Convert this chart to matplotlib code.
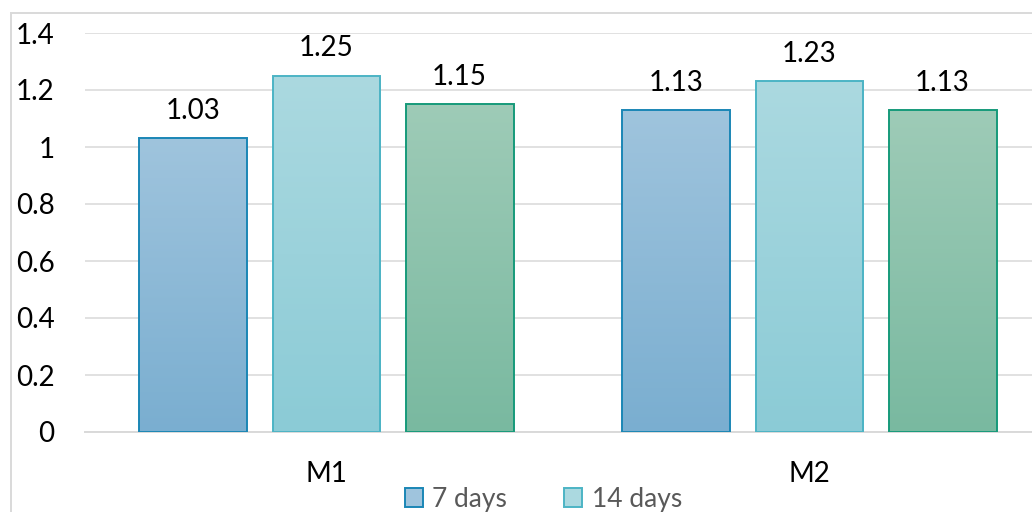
import numpy as np
import matplotlib.pyplot as plt
from matplotlib.patches import Patch, Rectangle
from matplotlib.colors import LinearSegmentedColormap

plt.rcParams['font.family'] = ['Lato', 'DejaVu Sans']

# data
categories = ['M1', 'M2']
series = ['7 days', '14 days', '28 days']
values = [
    [1.03, 1.13],
    [1.25, 1.23],
    [1.15, 1.13],
]
yticks = [0, 0.2, 0.4, 0.6, 0.8, 1, 1.2, 1.4]
ytick_labels = ['0', '0.2', '0.4', '0.6', '0.8', '1', '1.2', '1.4']

# styles: (top colour, bottom colour, edge colour)
styles = [
    ('#9fc4dd', '#7aaed0', '#1a86b5'),
    ('#abd9e0', '#8bcbd6', '#4cb4c5'),
    ('#9ecbb7', '#79b9a0', '#169a7a'),
]

fig = plt.figure(figsize=(10.32, 5.12), dpi=100)
ax = fig.add_axes([85 / 1032, 80 / 512, 966 / 1032, 399 / 512])

x = np.arange(len(categories))
width = 0.2236
step = 0.2754

legend_handles = []
for i, (name, vals, (top, bot, edge)) in enumerate(zip(series, values, styles)):
    pos = x + (i - 1) * step
    bars = ax.bar(pos, vals, width, facecolor='none', edgecolor=edge,
                  linewidth=1.4, zorder=3)
    cmap = LinearSegmentedColormap.from_list('g%d' % i, [bot, top])
    grad = np.linspace(0, 1, 256).reshape(-1, 1)
    for b, v in zip(bars, vals):
        x0 = b.get_x()
        im = ax.imshow(grad, cmap=cmap, origin='lower', aspect='auto',
                       extent=[x0, x0 + width, 0, v], zorder=2)
        im.set_clip_path(b)
        ax.annotate(f'{v:.2f}', (b.get_x() + width / 2, v),
                    xytext=(0, 14), textcoords='offset points',
                    ha='center', va='baseline', fontsize=20, color='#000000')
    legend_handles.append(Patch(facecolor=top, edgecolor=edge, linewidth=1.4,
                                label=name))

ax.set_xlim(-0.5, 1.5)
ax.set_ylim(0, 1.4)
ax.set_yticks(yticks)
ax.set_yticklabels(ytick_labels)
ax.set_xticks(x)
ax.set_xticklabels(categories)
ax.tick_params(axis='y', length=0, pad=22, labelsize=20, labelcolor='#000000')
ax.tick_params(axis='x', length=0, pad=21, labelsize=20, labelcolor='#000000')
ax.grid(axis='y', color='#d9d9d9', linewidth=1.1, zorder=0)
ax.set_axisbelow(True)
for s in ['top', 'left', 'right']:
    ax.spines[s].set_visible(False)
ax.spines['bottom'].set_color('#d9d9d9')
ax.spines['bottom'].set_linewidth(1.4)

# only the first legend row is visible in the cropped picture
fig.legend(handles=legend_handles[:2], loc='upper left',
           ncol=2, frameon=False,
           bbox_to_anchor=(394 / 1032, 1 - 476 / 512), fontsize=19,
           labelcolor='#595959', handlelength=0.7, handleheight=0.7,
           handletextpad=0.35, columnspacing=2.15, borderaxespad=0)

fig.patches.append(Rectangle((11 / 1032, -0.1), 1.2, 1 - 13 / 512 + 0.1,
                             transform=fig.transFigure, fill=False,
                             edgecolor='#d9d9d9', linewidth=1.4))

fig.savefig('out.png', dpi=100)
